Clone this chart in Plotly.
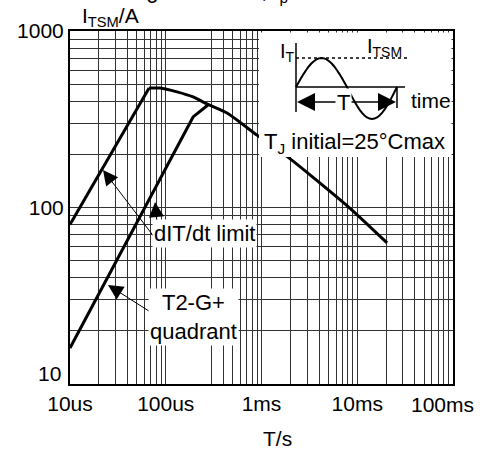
import numpy as np
import plotly.graph_objects as go

# ---- data ----
dit_t = [1e-5, 6.7e-5]                      # dIT/dt limit line (s)
dit_i = [80, 475]                           # A
tj_t = [6.7e-5, 8.7e-5, 1.31e-4, 1.93e-4, 2.7e-4, 4.37e-4, 8.97e-4, 1.89e-3, 8.4e-3, 2.05e-2]
tj_i = [475, 475, 452, 423, 386, 343, 257, 193, 99, 63]
q_t = [1e-5, 1.93e-4, 2.76e-4]              # T2-G+ quadrant line
q_i = [16, 326, 381]

x_tick_vals = [1e-5, 1e-4, 1e-3, 1e-2, 1e-1]
x_tick_text = ["10us", "100us", "1ms", "10ms", "100ms"]
y_tick_vals = [10, 100, 1000]
y_tick_text = ["10", "100", "1000"]
x_skip_grid = [2e-4]   # gridline absent in the reference

FONT = "Liberation Sans, Arial, sans-serif"

def grid(vals, skip=()):
    out = []
    for d in vals[:-1]:
        for m in range(1, 10):
            v = d * m
            if any(abs(v - s) / s < 1e-9 for s in skip):
                continue
            out.append(v)
    out.append(vals[-1])
    return out

gx = grid(x_tick_vals, x_skip_grid)
gy = grid(y_tick_vals)

def lab(v, vals, texts):
    for tv, tt in zip(vals, texts):
        if abs(v - tv) / tv < 1e-9:
            return tt
    return ""

# last x label (at the right edge) is drawn as an annotation so it stays inside the page
gx_text = [lab(v, x_tick_vals[:-1], x_tick_text[:-1]) for v in gx]
gy_text = [lab(v, y_tick_vals[1:], y_tick_text[1:]) for v in gy]

W, H = 484, 450
L, R, T, B = 70, 31, 31, 66
PW, PH = W - L - R, H - T - B

def px(x):
    return (x - L) / PW

def py(y):
    return (H - B - y) / PH

fig = go.Figure()
line_style = dict(color="black", width=3)
fig.add_trace(go.Scatter(x=dit_t, y=dit_i, mode="lines", line=line_style, hoverinfo="skip"))
fig.add_trace(go.Scatter(x=tj_t, y=tj_i, mode="lines", line=dict(color="black", width=3, shape="spline", smoothing=0.6), hoverinfo="skip"))
fig.add_trace(go.Scatter(x=q_t, y=q_i, mode="lines", line=line_style, hoverinfo="skip"))

shapes = []
shapes.append(dict(type="rect", xref="paper", yref="paper", x0=px(259), x1=px(451.5), y0=py(157), y1=py(32.5),
                   fillcolor="white", line=dict(width=0), layer="above"))

def seg(x0, y0, x1, y1, w=1.5, dash="solid"):
    return dict(type="line", xref="paper", yref="paper", x0=px(x0), y0=py(y0), x1=px(x1), y1=py(y1),
                line=dict(color="black", width=w, dash=dash), layer="above")

shapes.append(seg(296, 43, 296, 112))
shapes.append(seg(296, 87, 405, 87))
shapes.append(seg(296, 58, 410, 58, 1.5, "dot"))
shapes.append(seg(397, 87, 397, 108))
pts = []
for k in range(0, 41):
    f = k / 40
    if f <= 0.5:
        xx = 296 + f * 2 * 51
        yy = 87 - 29 * np.sin(np.pi * f * 2)
    else:
        g = (f - 0.5) * 2
        xx = 347 + g * 50
        yy = 87 + 32 * np.sin(np.pi * g)
    pts.append((px(xx), py(yy)))
path = "M " + " L ".join(f"{a:.5f},{b:.5f}" for a, b in pts)
shapes.append(dict(type="path", xref="paper", yref="paper", path=path,
                   line=dict(color="black", width=2), layer="above"))

annotations = []
def arrow(tip, tail, size=3, width=1):
    annotations.append(dict(xref="paper", yref="paper", x=px(tip[0]), y=py(tip[1]), text="",
                            showarrow=True, ax=tail[0] - tip[0], ay=tail[1] - tip[1],
                            arrowhead=2, arrowsize=size, arrowwidth=width, arrowcolor="black"))

arrow((103, 170), (158, 242))
arrow((155, 202), (159, 242))
arrow((108, 285), (152, 313))
arrow((297, 102), (343, 102), 2.4, 1.5)
arrow((396, 102), (343, 102), 2.4, 1.5)

def text(x, y, s, size=22, bg=None, xanchor="center", yanchor="middle", align="center"):
    d = dict(xref="paper", yref="paper", x=px(x), y=py(y), text=s, showarrow=False,
             font=dict(family=FONT, size=size, color="black"), xanchor=xanchor, yanchor=yanchor, align=align)
    if bg:
        d.update(bgcolor=bg, borderpad=1)
    annotations.append(d)

text(204, 233, "dIT/dt limit", bg="white")
text(193, 317, "T2-G+<br>quadrant", bg="white")
text(262, 143, "T<sub>J</sub> initial=25°Cmax", xanchor="left")
text(343, 102, "T", bg="white")
text(287, 52, "I<sub>T</sub>", size=20)
text(384, 48, "I<sub>TSM</sub>", size=20)
text(431, 101, "time", size=21)
text(110, 17, "I<sub>TSM</sub>/A", size=21)
text(277, 438, "T/s", size=21)
text(110, 8, "Surge Currents, t<sub>p</sub> = 10ms", size=22, xanchor="left", yanchor="bottom")
text(442, 404, x_tick_text[-1], size=21)
text(63, 373, y_tick_text[0], size=21, xanchor="right")

axis_common = dict(type="log", showgrid=True, gridcolor="#333", gridwidth=1, showline=True,
                   linecolor="black", linewidth=2, mirror=True, ticks="", zeroline=False,
                   tickfont=dict(family=FONT, size=21, color="black"))

fig.update_layout(
    width=W, height=H, autosize=False,
    margin=dict(l=L, r=R, t=T, b=B),
    paper_bgcolor="white", plot_bgcolor="white",
    showlegend=False,
    xaxis=dict(range=[-5, -1], tickmode="array", tickvals=gx, ticktext=gx_text, **axis_common),
    yaxis=dict(range=[1, 3], tickmode="array", tickvals=gy, ticktext=gy_text, **axis_common),
    shapes=shapes,
    annotations=annotations,
)

fig.write_html("out.html", config={"displayModeBar": False},
               post_script="document.body.style.margin='0';document.body.style.overflow='hidden';")
